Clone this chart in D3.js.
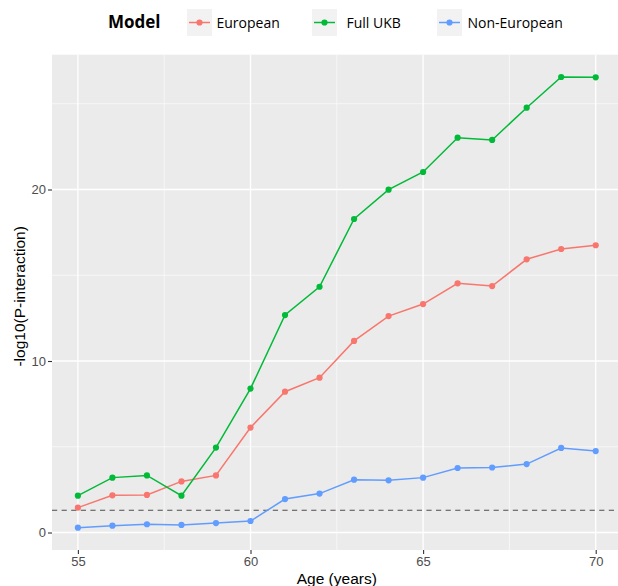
<!DOCTYPE html>
<html>
<head>
<meta charset="utf-8">
<script src="https://cdn.jsdelivr.net/npm/d3@7"></script>
<style>
  html, body { margin: 0; padding: 0; background: #ffffff; }
  svg { display: block; }
</style>
</head>
<body>
<svg id="chart" width="618" height="586"></svg>
<script>
// Age thresholds (years)
const ages = [55, 56, 57, 58, 59, 60, 61, 62, 63, 64, 65, 66, 67, 68, 69, 70];

// -log10(P-interaction) for each model
const european    = [1.45, 2.17, 2.19, 2.98, 3.33, 6.12, 8.21, 9.03, 11.17, 12.62, 13.32, 14.53, 14.37, 15.93, 16.53, 16.75];
const fullUKB     = [2.15, 3.20, 3.33, 2.15, 4.95, 8.39, 12.68, 14.33, 18.28, 19.99, 21.02, 23.02, 22.89, 24.77, 26.56, 26.54];
const nonEuropean = [0.28, 0.40, 0.48, 0.44, 0.55, 0.67, 1.95, 2.27, 3.08, 3.04, 3.20, 3.76, 3.79, 3.99, 4.93, 4.75];

const modelNames  = ["European", "Full UKB", "Non-European"];
const modelColors = ["#F8766D", "#00BA38", "#619CFF"];

const xTicks = [55, 60, 65, 70];
const yTicks = [0, 10, 20];
const xMinor = [57.5, 62.5, 67.5];
const yMinor = [5, 15, 25];

// significance threshold: -log10(0.05)
const threshold = -Math.log10(0.05);

const series = [european, fullUKB, nonEuropean].map((vals, i) => ({
  name: modelNames[i],
  color: modelColors[i],
  points: ages.map((a, j) => ({ age: a, value: vals[j] }))
}));

const svg = d3.select("#chart");

const panel = { left: 52, right: 621.6, top: 54.7, bottom: 550 };

const x = d3.scaleLinear().domain([54.25, 70.75]).range([panel.left, panel.right]);
const y = d3.scaleLinear().domain([-1.02, 27.86]).range([panel.bottom, panel.top]);

// panel background
svg.append("rect")
  .attr("x", panel.left).attr("y", panel.top)
  .attr("width", panel.right - panel.left)
  .attr("height", panel.bottom - panel.top)
  .attr("fill", "#EBEBEB");

const grid = svg.append("g");
// minor grid
grid.selectAll("line.ymin").data(yMinor).join("line")
  .attr("x1", panel.left).attr("x2", panel.right)
  .attr("y1", d => y(d)).attr("y2", d => y(d))
  .attr("stroke", "#ffffff").attr("stroke-width", 0.6);
grid.selectAll("line.xmin").data(xMinor).join("line")
  .attr("x1", d => x(d)).attr("x2", d => x(d))
  .attr("y1", panel.top).attr("y2", panel.bottom)
  .attr("stroke", "#ffffff").attr("stroke-width", 0.6);
// major grid
grid.selectAll("line.ymaj").data(yTicks).join("line")
  .attr("x1", panel.left).attr("x2", panel.right)
  .attr("y1", d => y(d)).attr("y2", d => y(d))
  .attr("stroke", "#ffffff").attr("stroke-width", 1.3);
grid.selectAll("line.xmaj").data(xTicks).join("line")
  .attr("x1", d => x(d)).attr("x2", d => x(d))
  .attr("y1", panel.top).attr("y2", panel.bottom)
  .attr("stroke", "#ffffff").attr("stroke-width", 1.3);

// threshold line
svg.append("line")
  .attr("x1", panel.left).attr("x2", panel.right)
  .attr("y1", y(threshold)).attr("y2", y(threshold))
  .attr("stroke", "#4D4D4D").attr("stroke-width", 1.1)
  .attr("stroke-dasharray", "5.2,4.4");

// series lines and points
const line = d3.line().x(d => x(d.age)).y(d => y(d.value));
const sg = svg.append("g").selectAll("g").data(series).join("g");
sg.append("path")
  .attr("d", d => line(d.points))
  .attr("fill", "none")
  .attr("stroke", d => d.color)
  .attr("stroke-width", 1.5);
sg.each(function(s) {
  d3.select(this).selectAll("circle").data(s.points).join("circle")
    .attr("cx", d => x(d.age)).attr("cy", d => y(d.value))
    .attr("r", 3.1).attr("fill", s.color);
});

// axes
const xAxis = d3.axisBottom(x).tickValues(xTicks).tickSize(4).tickPadding(3).tickFormat(d3.format("d"));
const yAxis = d3.axisLeft(y).tickValues(yTicks).tickSize(4).tickPadding(2).tickFormat(d3.format("d"));

const gx = svg.append("g").attr("transform", `translate(0,${panel.bottom})`).call(xAxis);
const gy = svg.append("g").attr("transform", `translate(${panel.left},0)`).call(yAxis);
[gx, gy].forEach(g => {
  g.select(".domain").remove();
  g.selectAll(".tick line").attr("stroke", "#333333").attr("stroke-width", 1.1);
  g.selectAll(".tick text")
    .attr("fill", "#4D4D4D")
    .style("font-family", "'Liberation Sans', Arial, sans-serif")
    .style("font-size", "13px");
});

// axis titles
svg.append("text")
  .attr("x", (panel.left + panel.right) / 2).attr("y", 584)
  .attr("text-anchor", "middle")
  .style("font-family", "'Liberation Sans', Arial, sans-serif")
  .style("font-size", "15.5px").attr("fill", "#000")
  .text("Age (years)");
svg.append("text")
  .attr("transform", `translate(25,${(panel.top + panel.bottom) / 2 - 6}) rotate(-90)`)
  .attr("text-anchor", "middle")
  .style("font-family", "'Liberation Sans', Arial, sans-serif")
  .style("font-size", "15.5px").attr("fill", "#000")
  .text("-log10(P-interaction)");

// legend
const legend = svg.append("g");
legend.append("text")
  .attr("x", 108).attr("y", 28)
  .style("font-family", "'Open Sans', sans-serif")
  .style("font-size", "17px").style("font-weight", "bold")
  .text("Model");

const keyX = [187, 312, 437];
const labelX = [216.5, 346.5, 467.5];
const keyW = 25, keyH = 27, keyY = 9;
const items = legend.selectAll("g.item").data(series).join("g");
items.append("rect")
  .attr("x", (d, i) => keyX[i]).attr("y", keyY)
  .attr("width", keyW).attr("height", keyH)
  .attr("fill", "#F2F2F2");
items.append("line")
  .attr("x1", (d, i) => keyX[i] + 2).attr("x2", (d, i) => keyX[i] + keyW - 2)
  .attr("y1", keyY + keyH / 2).attr("y2", keyY + keyH / 2)
  .attr("stroke", d => d.color).attr("stroke-width", 1.5);
items.append("circle")
  .attr("cx", (d, i) => keyX[i] + keyW / 2).attr("cy", keyY + keyH / 2)
  .attr("r", 3.1).attr("fill", d => d.color);
items.append("text")
  .attr("x", (d, i) => labelX[i]).attr("y", 28)
  .style("font-family", "'Open Sans', sans-serif")
  .style("font-size", "14px").attr("fill", "#000")
  .text(d => d.name);
</script>
</body>
</html>
